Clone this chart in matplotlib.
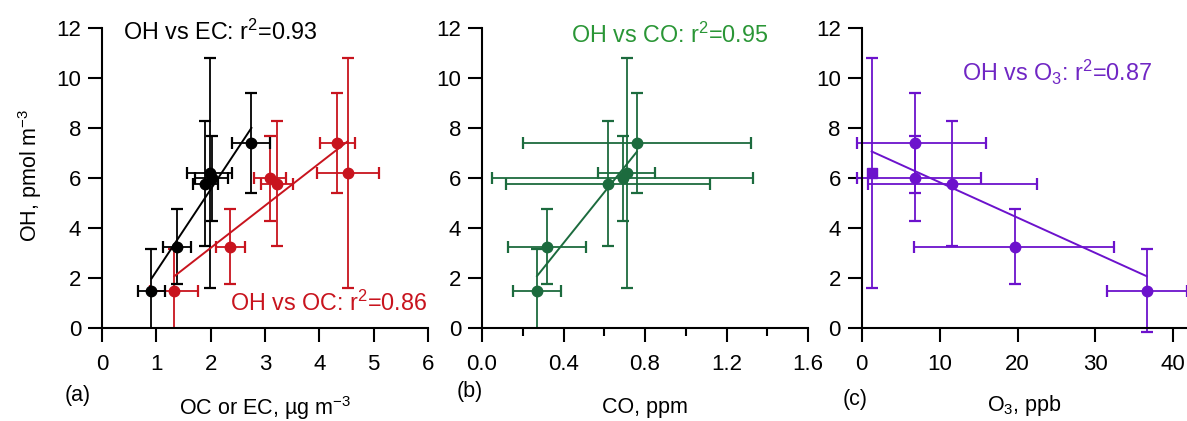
import matplotlib
matplotlib.use("Agg")
import matplotlib.pyplot as plt
from matplotlib.ticker import MultipleLocator
import numpy as np

plt.rcParams['font.family'] = ['Liberation Sans', 'DejaVu Sans']
plt.rcParams['mathtext.fontset'] = 'custom'
plt.rcParams['mathtext.rm'] = 'Liberation Sans'
plt.rcParams['mathtext.it'] = 'Liberation Sans:italic'
plt.rcParams['mathtext.bf'] = 'Liberation Sans:bold'

# ---- data ----
OH = [1.5, 3.25, 5.78, 6.0, 6.2, 7.4]
OH_err = [1.65, 1.5, 2.5, 1.7, 4.6, 2.0]

EC = [0.91, 1.38, 1.90, 2.02, 1.98, 2.75]
EC_err = [0.25, 0.25, 0.23, 0.30, 0.42, 0.35]

OC = [1.33, 2.36, 3.22, 3.09, 4.52, 4.33]
OC_err = [0.44, 0.27, 0.30, 0.29, 0.57, 0.32]

CO = [0.27, 0.32, 0.62, 0.69, 0.71, 0.76]
CO_err = [0.12, 0.19, 0.50, 0.64, 0.14, 0.56]

O3 = [36.6, 19.67, 11.65, 6.84, 1.28, 6.84]
O3_err_lo = [5.1, 12.9, 10.9, 7.4, 0.0, 7.4]
O3_err_hi = [5.1, 12.7, 10.9, 8.5, 0.0, 9.1]

# fitted lines (slope, intercept)
fit_EC = (3.28, -1.01)
fit_OC = (1.693, -0.18)
fit_CO = (10.16, -0.664)
fit_O3 = (-0.1415, 7.25)

C_BLACK = 'black'
C_RED = '#c8141e'
C_GREEN = '#1c6b3e'
C_GREEN_TXT = '#2a9636'
C_PURPLE = '#6c12cc'
C_PURPLE_TXT = '#7026c4'

TICK_FS = 16
LABEL_FS = 15.5
ANN_FS = 16.8

W, H = 1187, 421
fig = plt.figure(figsize=(W / 100, H / 100), dpi=100)

y0px, y12px = 328.0, 28.3
bottom = (H - y0px) / H
height = (y0px - y12px) / H

axA = fig.add_axes([102 / W, bottom, 326 / W, height])
axB = fig.add_axes([482 / W, bottom, 326 / W, height])
axC = fig.add_axes([861.7 / W, bottom, (W - 861.7) / W, height])

ekw = dict(fmt='o', ms=7.5, elinewidth=1.3, capsize=4.5, capthick=1.6)


def style(ax):
    for s in ['top', 'right']:
        ax.spines[s].set_visible(False)
    for s in ['left', 'bottom']:
        ax.spines[s].set_linewidth(1.5)
    ax.tick_params(axis='both', which='major', direction='out', length=10,
                   width=1.5, labelsize=TICK_FS)
    ax.tick_params(axis='x', which='major', pad=9)
    ax.tick_params(axis='y', which='major', pad=5)
    ax.tick_params(axis='x', which='minor', direction='out', length=6, width=1.5)
    ax.set_ylim(0, 12)
    ax.set_yticks([0, 2, 4, 6, 8, 10, 12])


def fitline(ax, xs, fit, color):
    xx = np.array([min(xs), max(xs)])
    ax.plot(xx, fit[0] * xx + fit[1], color=color, lw=1.4, zorder=4)


# ---- panel a ----
axA.errorbar(OC, OH, xerr=OC_err, yerr=OH_err, color=C_RED, ecolor=C_RED,
             mfc=C_RED, mec=C_RED, zorder=2, **ekw)
fitline(axA, OC, fit_OC, C_RED)
axA.errorbar(EC, OH, xerr=EC_err, yerr=OH_err, color=C_BLACK, ecolor=C_BLACK,
             zorder=3, **ekw)
fitline(axA, EC, fit_EC, C_BLACK)
axA.set_xlim(0, 6)
axA.set_xticks([0, 1, 2, 3, 4, 5, 6])
style(axA)

# ---- panel b ----
axB.errorbar(CO, OH, xerr=CO_err, yerr=OH_err, color=C_GREEN, ecolor=C_GREEN,
             **ekw)
fitline(axB, CO, fit_CO, C_GREEN)
axB.set_xlim(0, 1.6)
axB.set_xticks([0.0, 0.4, 0.8, 1.2, 1.6])
axB.set_xticklabels(['0.0', '0.4', '0.8', '1.2', '1.6'])
axB.xaxis.set_minor_locator(MultipleLocator(0.2))
style(axB)

# ---- panel c ----
mask_sq = [e == 0 for e in O3_err_lo]
x_c = [x for x, m in zip(O3, mask_sq) if not m]
y_c = [y for y, m in zip(OH, mask_sq) if not m]
ye_c = [e for e, m in zip(OH_err, mask_sq) if not m]
lo_c = [e for e, m in zip(O3_err_lo, mask_sq) if not m]
hi_c = [e for e, m in zip(O3_err_hi, mask_sq) if not m]
eb = axC.errorbar(x_c, y_c, xerr=[lo_c, hi_c], yerr=ye_c, color=C_PURPLE,
                  ecolor=C_PURPLE, **ekw)
for art in list(eb.lines[1]) + list(eb.lines[2]):
    art.set_clip_on(False)
for m, x, y, e in zip(mask_sq, O3, OH, OH_err):
    if m:
        axC.errorbar([x], [y], yerr=[e], fmt='s', ms=7, color=C_PURPLE,
                     ecolor=C_PURPLE, elinewidth=1.3, capsize=4.5, capthick=1.6)
fitline(axC, O3, fit_O3, C_PURPLE)
axC.set_xlim(0, (W - 861.7) / 7.79)
axC.set_xticks([0, 10, 20, 30, 40])
style(axC)

# ---- labels ----
def fx(px):
    return px / W


def fy(py):
    return 1 - py / H


fig.text(fx(30), fy(175), 'OH, pmol m$^{-3}$', rotation=90, ha='center',
         va='center', fontsize=LABEL_FS)
fig.text(fx(265), fy(408), 'OC or EC, µg m$^{-3}$', ha='center', va='center',
         fontsize=LABEL_FS)
fig.text(fx(645), fy(408), 'CO, ppm', ha='center', va='center', fontsize=LABEL_FS)
fig.text(fx(1024), fy(405), 'O$_3$, ppb', ha='center', va='center',
         fontsize=LABEL_FS)
fig.text(fx(78), fy(396), '(a)', ha='center', va='center', fontsize=LABEL_FS)
fig.text(fx(470), fy(392), '(b)', ha='center', va='center', fontsize=LABEL_FS)
fig.text(fx(855), fy(400), '(c)', ha='center', va='center', fontsize=LABEL_FS)

fig.text(fx(123), fy(32), 'OH vs EC: r$^{2}$=0.93', ha='left', va='center',
         fontsize=ANN_FS, color=C_BLACK)
fig.text(fx(230), fy(303), 'OH vs OC: r$^{2}$=0.86', ha='left', va='center',
         fontsize=ANN_FS, color=C_RED)
fig.text(fx(571), fy(35), 'OH vs CO: r$^{2}$=0.95', ha='left', va='center',
         fontsize=ANN_FS, color=C_GREEN_TXT)
fig.text(fx(962), fy(72), 'OH vs O$_3$: r$^{2}$=0.87', ha='left', va='center',
         fontsize=ANN_FS, color=C_PURPLE_TXT)

fig.savefig('out.png', dpi=100)
